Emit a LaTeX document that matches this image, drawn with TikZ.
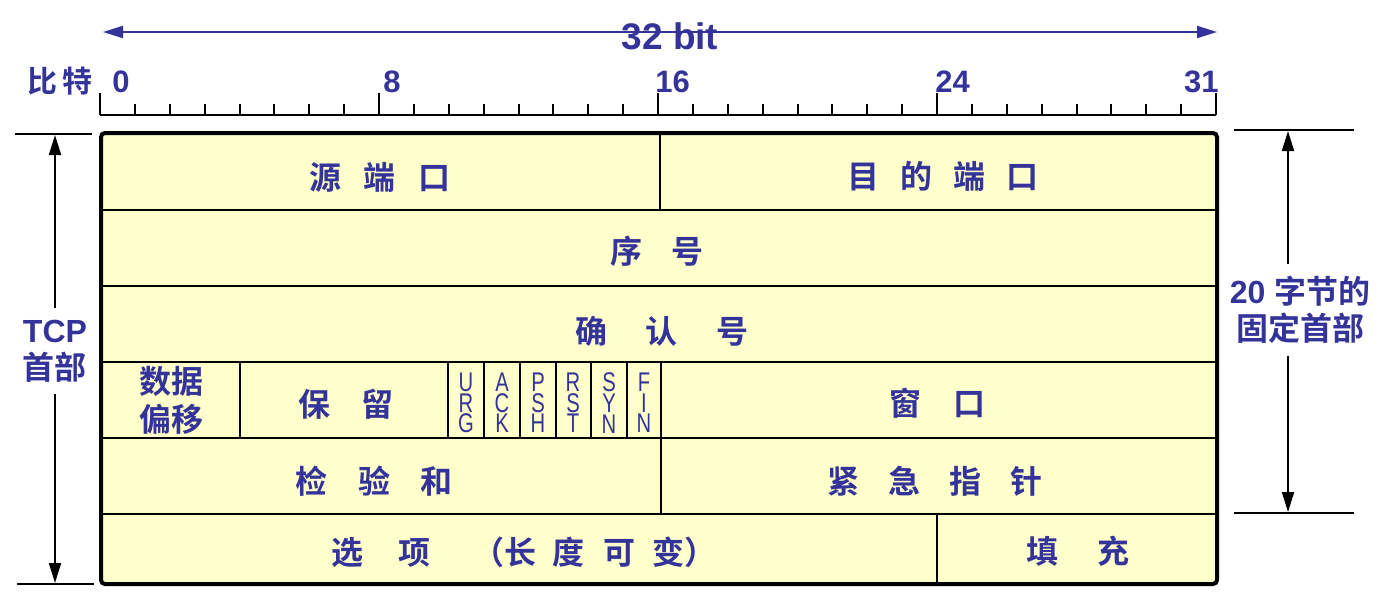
\documentclass[tikz,border=0pt]{standalone}
\usepackage{fontspec}
\setmainfont{Liberation Sans}
\newfontfamily\cjk{Noto Sans CJK SC}[BoldFont={* Bold}]
\newfontfamily\flagfont{Liberation Sans}[FakeStretch=0.75]
\usetikzlibrary{arrows.meta,calc}
\definecolor{tblue}{HTML}{333399}
\definecolor{cellyellow}{HTML}{FFFFCC}

\begin{document}
\begin{tikzpicture}[x=0.5pt,y=-0.5pt]
\tikzset{
	field/.style = {font=\cjk\bfseries\fontsize{16}{19}\selectfont, text=tblue, inner sep=0, align=center},
	flag/.style = {font=\flagfont\fontsize{13.5}{10.3}\selectfont, text=tblue, inner sep=0, align=center},
	num/.style = {font=\bfseries\fontsize{15.5}{18}\selectfont, text=tblue, inner sep=0},
	side/.style = {font=\bfseries\fontsize{16}{18.5}\selectfont, text=tblue, inner sep=0, outer sep=6pt, align=center},
	dim/.style = {{Triangle[length=10pt,width=6pt]}-{Triangle[length=10pt,width=6pt]}, line width=1pt},
	tip/.style = {-{Triangle[length=10pt,width=6pt]}, line width=1pt},
	sep/.style = {line width=1pt},
}
\useasboundingbox (0,0) rectangle (1397,605);

% width arrow
\coordinate (wl) at (103,32);
\coordinate (wr) at (1217,32);
\draw[dim, tblue] (wl) -- (wr);
\node(w)[num, font=\bfseries\fontsize{18.5}{20}\selectfont] at (670,36) {32 bit};

% ruler
\node(bit)[field, font=\cjk\bfseries\fontsize{15}{18}\selectfont] at (60,81) {比\hspace{0.15em}特};
\draw[sep] (100,115) -- (1216,115);
\foreach \i in {0,...,32}
	\draw[sep] ({100+34.875*\i},115) -- ({100+34.875*\i},104);
\foreach \i in {0,8,...,32}
	\draw[sep] ({100+34.875*\i},115) -- ({100+34.875*\i},93);
\node(b0)[num, anchor=base west] at (112,92) {0};
\node(b8)[num, anchor=base west] at (383,92) {8};
\node(b16)[num, anchor=base west] at (655,92) {16};
\node(b24)[num, anchor=base west] at (935,92) {24};
\node(b31)[num, anchor=base east] at (1219,92) {31};

% header box
\fill[cellyellow, rounded corners=2pt] (101,133) rectangle (1217,584);
\foreach \y in {210,286,362,438,514}
	\draw[sep] (101,\y) -- (1217,\y);
\foreach \x in {448,484,520,556,591,627,661}
	\draw[sep] (\x,362) -- (\x,438);
\draw[sep] (660,133) -- (660,210);
\draw[sep] (240,362) -- (240,438);
\draw[sep] (661,438) -- (661,514);
\draw[sep] (937,514) -- (937,584);
\draw[line width=2pt, rounded corners=2pt] (101,133) rectangle (1217,584);

\node(src)[field] at (380,177) {源\hspace{0.7em}端\hspace{0.7em}口};
\node(dst)[field] at (943,176) {目\hspace{0.65em}的\hspace{0.65em}端\hspace{0.65em}口};
\node(seq)[field] at (657,251) {序\hspace{0.9em}号};
\node(ackno)[field] at (662,331) {确\hspace{1.2em}认\hspace{1.2em}号};
\node(off)[field] at (171,400) {数据\\偏移};
\node(rsv)[field] at (346,404) {保\hspace{0.97em}留};
\foreach \x/\f/\n in {466/U\\R\\G/urg, 502/A\\C\\K/ack, 538/P\\S\\H/psh, 573/R\\S\\T/rst, 609/S\\Y\\N/syn, 644/F\\I\\N/fin}
	\node(\n)[flag] at (\x,403) {\f};
\node(win)[field] at (937,403) {窗\hspace{1em}口};
\node(chk)[field] at (374,481) {检\hspace{0.94em}验\hspace{0.94em}和};
\node(urp)[field] at (935,481) {紧\hspace{0.9em}急\hspace{0.9em}指\hspace{0.9em}针};
\node(opt)[field] at (524,552) {选\hspace{1.1em}项\hspace{1.3em}（长\hspace{0.5em}度\hspace{0.6em}可\hspace{0.55em}变）};
\node(pad)[field] at (1078,551) {填\hspace{1.2em}充};

% TCP header height
\draw[sep] (15,134) -- (92,134);
\draw[sep] (17,584) -- (94,584);
\coordinate (lt) at (55,135);
\coordinate (lb) at (55,583);
\node(tcp)[side] at (55,351) {TCP\\{\cjk 首部}};
\draw[tip] (tcp.north) -- (lt);
\draw[tip] (tcp.south) -- (lb);

% fixed part
\draw[sep] (1234,130) -- (1354,130);
\draw[sep] (1234,513) -- (1354,513);
\coordinate (rt) at (1288,131);
\coordinate (rb) at (1288,512);
\node(fix)[side] at (1300,310) {20 {\cjk 字节的}\\{\cjk 固定首部}};
\draw[tip] (fix.north -| rt) -- (rt);
\draw[tip] (fix.south -| rb) -- (rb);

\end{tikzpicture}
\end{document}
